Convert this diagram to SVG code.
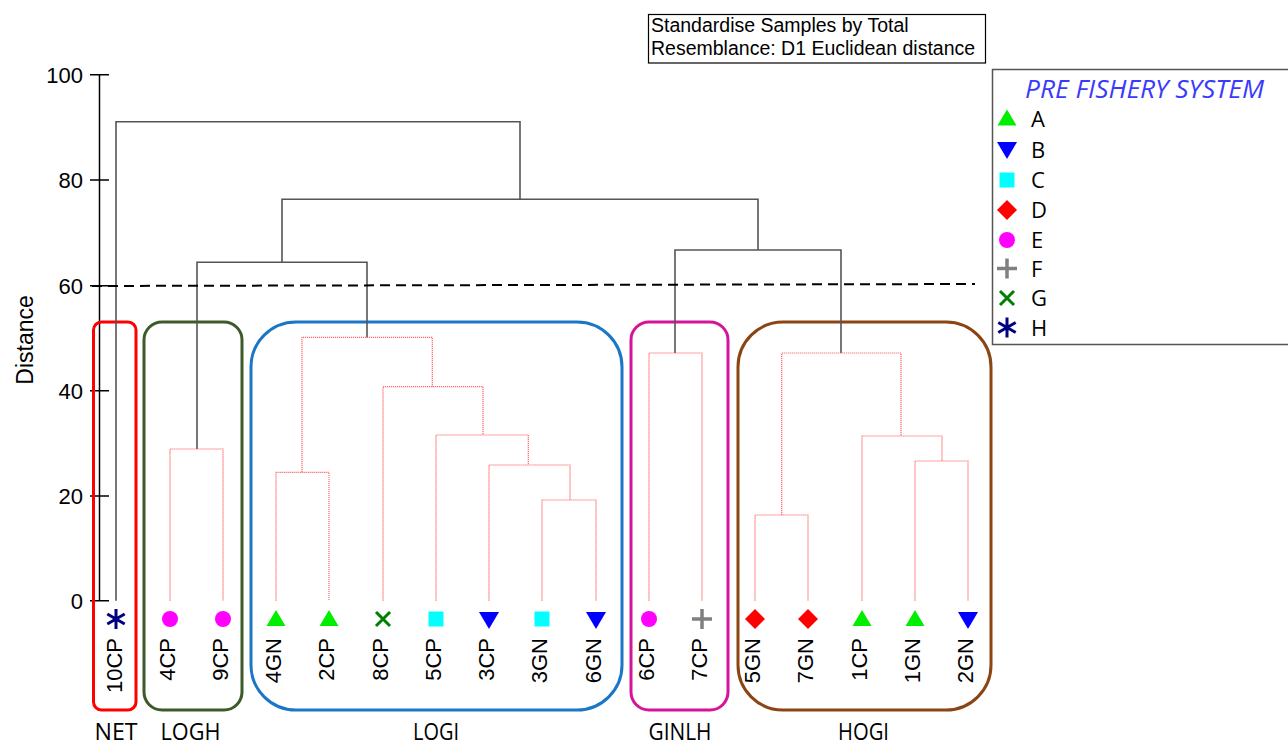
<svg xmlns="http://www.w3.org/2000/svg" width="1288" height="745" viewBox="0 0 1288 745">
<style>
.ax{stroke:#000;stroke-width:1.5;fill:none}
.tk{font-family:"Liberation Sans",Arial,sans-serif;font-size:22px;fill:#000;text-anchor:end}
.dn{stroke:#555;stroke-width:1.6;fill:none}
.rd{stroke:#ff4d4d;stroke-width:1.2;stroke-dasharray:1.2 0.8;fill:none;opacity:0.85}
.lab{font-family:"Liberation Sans",Arial,sans-serif;font-size:22px;fill:#000;text-anchor:end}
.grp{font-family:"Open Sans","Noto Sans",sans-serif;font-size:23px;fill:#000;text-anchor:middle}
.leg{font-family:"Open Sans","Noto Sans",sans-serif;font-size:22px;fill:#000}
.box{fill:none;stroke-width:3}
</style>
<defs>
<polygon id="mA" points="0,-9 9.5,7 -9.5,7" fill="#00ee00"/>
<polygon id="mB" points="-10,-7 10,-7 0,10" fill="#0000ff"/>
<rect id="mC" x="-7.5" y="-7.5" width="15" height="15" fill="#00ffff"/>
<polygon id="mD" points="0,-10 10,0 0,10 -10,0" fill="#ff0000"/>
<circle id="mE" r="8" fill="#ff00ff"/>
<path id="mF" d="M-10,0H10M0,-10V10" stroke="#808080" stroke-width="3.5" fill="none"/>
<path id="mG" d="M-7,-7L7,7M7,-7L-7,7" stroke="#008000" stroke-width="3" fill="none"/>
<path id="mH" d="M0,-10V10M-8.7,-5L8.7,5M8.7,-5L-8.7,5" stroke="#000080" stroke-width="3" fill="none"/>
</defs>
<rect width="1288" height="745" fill="#fff"/>

<g id="title">
<rect x="648.5" y="14.5" width="337" height="48.5" fill="#fff" stroke="#000" stroke-width="1.2"/>
<text x="651" y="32" font-family="Liberation Sans,Arial,sans-serif" font-size="19.5">Standardise Samples by Total</text>
<text x="651" y="55" font-family="Liberation Sans,Arial,sans-serif" font-size="19.5">Resemblance: D1 Euclidean distance</text>
</g>

<g id="axis">
<line class="ax" x1="99.5" y1="74.7" x2="99.5" y2="600.7"/>
<path class="ax" d="M90,74.7H109M90,180H109M90,285.7H109M90,390.7H109M90,496H109M90,600.7H109"/>
<text class="tk" x="83" y="82.5">100</text>
<text class="tk" x="83" y="188">80</text>
<text class="tk" x="83" y="293.5">60</text>
<text class="tk" x="83" y="398.5">40</text>
<text class="tk" x="83" y="504">20</text>
<text class="tk" x="83" y="608.5">0</text>
<text transform="translate(33,340) rotate(-90)" font-family="Liberation Sans,Arial,sans-serif" font-size="23" text-anchor="middle">Distance</text>
</g>

<g id="boxes">
<rect id="box-NET" class="box" x="93.5" y="322" width="42.5" height="388" rx="8" stroke="#ff0000"/>
<rect id="box-LOGH" class="box" x="144" y="322" width="98" height="388" rx="18" stroke="#3d5a2a"/>
<rect id="box-LOGI" class="box" x="251" y="322" width="371" height="388" rx="45" stroke="#1a76c6"/>
<rect id="box-GINLH" class="box" x="631" y="322" width="97" height="388" rx="18" stroke="#d4149b"/>
<rect id="box-HOGI" class="box" x="738" y="322" width="253" height="388" rx="45" stroke="#8b4513"/>
</g>

<g id="connectors">
<path class="dn" d="M116,600.7V121.7H520V199.3M282,262.3V199.3H758V250M197,449V262.3H367V337.3M675,353V250H841V353"/>
<path class="rd" d="M170,600.7V449H223V600.7"/>
<path class="rd" d="M302,472.3V337.3H432.3V386.7"/>
<path class="rd" d="M276,600.7V472.3H329V600.7"/>
<path class="rd" d="M383,600.7V386.7H483V435"/>
<path class="rd" d="M436,600.7V435H528.3V465"/>
<path class="rd" d="M489,600.7V465H570V500"/>
<path class="rd" d="M542,600.7V500H596V600.7"/>
<path class="rd" d="M649,600.7V353H702V600.7"/>
<path class="rd" d="M781.7,515V353H901V436"/>
<path class="rd" d="M755,600.7V515H808V600.7"/>
<path class="rd" d="M862,600.7V436H942V461"/>
<path class="rd" d="M915,600.7V461H968V600.7"/>
<line x1="92" y1="286" x2="975" y2="284" stroke="#000" stroke-width="2" stroke-dasharray="10 6"/>
</g>

<g id="leaf-10CP"><use href="#mH" x="116" y="619"/><text class="lab" transform="translate(122,638) rotate(-90)">10CP</text></g>
<g id="leaf-4CP"><use href="#mE" x="170" y="619"/><text class="lab" transform="translate(175,638) rotate(-90)">4CP</text></g>
<g id="leaf-9CP"><use href="#mE" x="223" y="619"/><text class="lab" transform="translate(228,638) rotate(-90)">9CP</text></g>
<g id="leaf-4GN"><use href="#mA" x="276" y="619"/><text class="lab" transform="translate(281,638) rotate(-90)">4GN</text></g>
<g id="leaf-2CP"><use href="#mA" x="329" y="619"/><text class="lab" transform="translate(334,638) rotate(-90)">2CP</text></g>
<g id="leaf-8CP"><use href="#mG" x="383" y="619"/><text class="lab" transform="translate(388,638) rotate(-90)">8CP</text></g>
<g id="leaf-5CP"><use href="#mC" x="436" y="619"/><text class="lab" transform="translate(441,638) rotate(-90)">5CP</text></g>
<g id="leaf-3CP"><use href="#mB" x="489" y="619"/><text class="lab" transform="translate(494,638) rotate(-90)">3CP</text></g>
<g id="leaf-3GN"><use href="#mC" x="542" y="619"/><text class="lab" transform="translate(547,638) rotate(-90)">3GN</text></g>
<g id="leaf-6GN"><use href="#mB" x="596" y="619"/><text class="lab" transform="translate(601,638) rotate(-90)">6GN</text></g>
<g id="leaf-6CP"><use href="#mE" x="649" y="619"/><text class="lab" transform="translate(654,638) rotate(-90)">6CP</text></g>
<g id="leaf-7CP"><use href="#mF" x="702" y="619"/><text class="lab" transform="translate(707,638) rotate(-90)">7CP</text></g>
<g id="leaf-5GN"><use href="#mD" x="755" y="619"/><text class="lab" transform="translate(760,638) rotate(-90)">5GN</text></g>
<g id="leaf-7GN"><use href="#mD" x="808" y="619"/><text class="lab" transform="translate(813,638) rotate(-90)">7GN</text></g>
<g id="leaf-1CP"><use href="#mA" x="862" y="619"/><text class="lab" transform="translate(867,638) rotate(-90)">1CP</text></g>
<g id="leaf-1GN"><use href="#mA" x="915" y="619"/><text class="lab" transform="translate(920,638) rotate(-90)">1GN</text></g>
<g id="leaf-2GN"><use href="#mB" x="968" y="619"/><text class="lab" transform="translate(973,638) rotate(-90)">2GN</text></g>

<g id="group-labels">
<text class="grp" x="116" y="740" textLength="43" lengthAdjust="spacingAndGlyphs">NET</text>
<text class="grp" x="190.5" y="740" textLength="60" lengthAdjust="spacingAndGlyphs">LOGH</text>
<text class="grp" x="436" y="740" textLength="46" lengthAdjust="spacingAndGlyphs">LOGI</text>
<text class="grp" x="680" y="740" textLength="63" lengthAdjust="spacingAndGlyphs">GINLH</text>
<text class="grp" x="863.5" y="740" textLength="51" lengthAdjust="spacingAndGlyphs">HOGI</text>
</g>

<g id="legend">
<rect x="992.5" y="69.5" width="300" height="275" fill="#fff" stroke="#555" stroke-width="1.5"/>
<text x="1025" y="98" font-family="Open Sans,Noto Sans,sans-serif" font-size="25" font-style="italic" fill="#3a3aff" textLength="239" lengthAdjust="spacingAndGlyphs">PRE FISHERY SYSTEM</text>
<use href="#mA" x="1007" y="118.5"/><text class="leg" x="1031" y="126.5">A</text>
<use href="#mB" x="1007" y="149"/><text class="leg" x="1031" y="157.5">B</text>
<use href="#mC" x="1007" y="180"/><text class="leg" x="1031" y="188">C</text>
<use href="#mD" x="1007" y="210"/><text class="leg" x="1031" y="218">D</text>
<use href="#mE" x="1007" y="240"/><text class="leg" x="1031" y="248">E</text>
<use href="#mF" x="1007" y="268.5"/><text class="leg" x="1031" y="276.5">F</text>
<use href="#mG" x="1007" y="298"/><text class="leg" x="1031" y="306">G</text>
<use href="#mH" x="1007" y="327.5"/><text class="leg" x="1031" y="335.5">H</text>
</g>
</svg>
